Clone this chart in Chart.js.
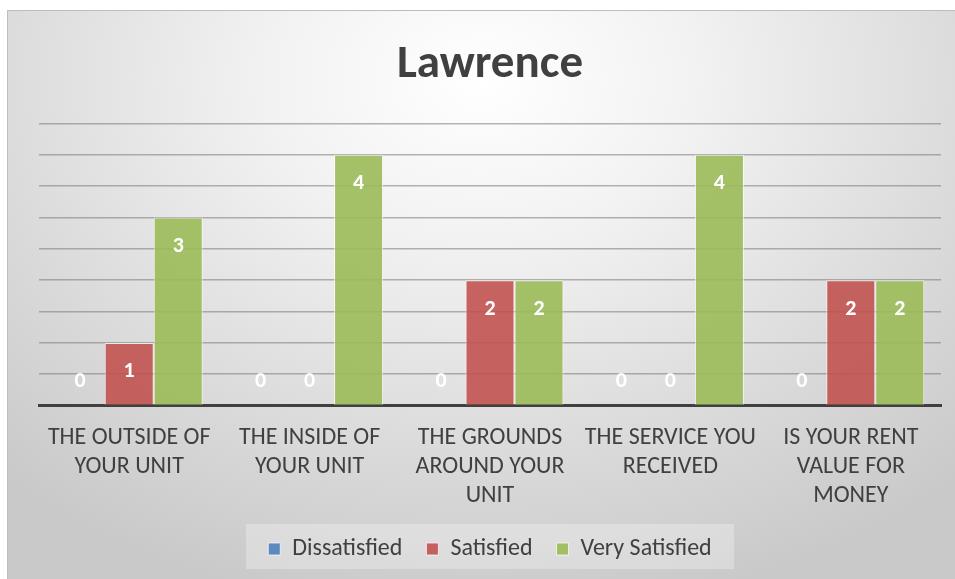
<!DOCTYPE html>
<html>
<head>
<meta charset="utf-8">
<script src="https://cdn.jsdelivr.net/npm/chart.js@4"></script>
<style>
  html, body { margin: 0; padding: 0; background: #fff; }
  #wrap {
    position: absolute; left: 7px; top: 10px; width: 948px; height: 569px;
    border-left: 1px solid #bdbdbd; border-top: 1px solid #bdbdbd; box-sizing: border-box;
    background: radial-gradient(ellipse 75% 95% at 50% 12%, #ffffff 0%, #f2f2f2 30%, #dadada 70%, #c9c9c9 100%);
  }
  canvas { display: block; }
</style>
</head>
<body>
<div id="wrap"><canvas id="chart" width="947" height="568"></canvas></div>
<script>
// Lawrence – satisfação por pergunta
const categorias = [
  ["THE OUTSIDE OF", "YOUR UNIT"],
  ["THE INSIDE OF", "YOUR UNIT"],
  ["THE GROUNDS", "AROUND YOUR", "UNIT"],
  ["THE SERVICE YOU", "RECEIVED"],
  ["IS YOUR RENT", "VALUE FOR", "MONEY"]
];
const series = ["Dissatisfied", "Satisfied", "Very Satisfied"];
const dissatisfied = [0, 0, 0, 0, 0];
const satisfied = [1, 0, 2, 0, 2];
const verySatisfied = [3, 4, 2, 4, 2];

const cores = ["rgba(79,129,189,0.9)", "rgba(192,80,77,0.88)", "rgba(155,187,89,0.9)"];
const fonte = "Carlito, 'Liberation Sans Narrow', 'Open Sans', sans-serif";

// rótulos brancos dentro das barras
const rotulos = {
  id: "rotulos",
  afterDatasetsDraw(chart) {
    const ctx = chart.ctx;
    const base = chart.scales.y.getPixelForValue(0);
    ctx.save();
    ctx.fillStyle = "#ffffff";
    ctx.font = "bold 22px " + fonte;
    ctx.textAlign = "center";
    ctx.textBaseline = "middle";
    chart.data.datasets.forEach((ds, i) => {
      chart.getDatasetMeta(i).data.forEach((bar, j) => {
        const y = Math.min(bar.y + 29, base - 24);
        ctx.fillText(String(ds.data[j]), bar.x, y);
      });
    });
    ctx.restore();
  }
};

// caixa de fundo da legenda
const fundoLegenda = {
  id: "fundoLegenda",
  beforeDraw(chart) {
    const lg = chart.legend;
    if (!lg) return;
    const ctx = chart.ctx;
    ctx.save();
    ctx.fillStyle = "rgba(255,255,255,0.28)";
    const cx = (lg.left + lg.right) / 2;
    const cy = (lg.top + lg.bottom) / 2;
    ctx.fillRect(cx - 244, cy - 18, 488, 45);
    ctx.restore();
  }
};

new Chart(document.getElementById("chart"), {
  type: "bar",
  data: {
    labels: categorias,
    datasets: [
      { label: series[0], data: dissatisfied, backgroundColor: cores[0] },
      { label: series[1], data: satisfied, backgroundColor: cores[1] },
      { label: series[2], data: verySatisfied, backgroundColor: cores[2] }
    ].map(d => Object.assign(d, { borderColor: "rgba(255,255,255,0.7)", borderWidth: 1, borderSkipped: "bottom" }))
  },
  options: {
    responsive: false,
    animation: false,
    layout: { padding: { left: 31, right: 14, top: 0, bottom: 8 } },
    datasets: { bar: { categoryPercentage: 0.815, barPercentage: 1 } },
    plugins: {
      title: {
        display: true,
        text: "Lawrence",
        color: "#404040",
        font: { family: fonte, size: 47, weight: "bold" },
        padding: { top: 26, bottom: 30 }
      },
      legend: {
        position: "bottom",
        labels: {
          color: "#404040",
          font: { family: fonte, size: 24 },
          boxWidth: 12,
          boxHeight: 12,
          padding: 24
        }
      },
      tooltip: { enabled: false }
    },
    scales: {
      x: {
        grid: { display: false, drawTicks: false },
        border: { display: true, color: "#404040", width: 3 },
        afterFit(scale) { scale.height -= 15; },
        ticks: {
          color: "#404040",
          font: { family: fonte, size: 24, lineHeight: 1.2 },
          padding: 18,
          maxRotation: 0,
          autoSkip: false
        }
      },
      y: {
        min: 0,
        max: 4.5,
        ticks: { display: false, stepSize: 0.5 },
        grid: { color: "rgba(120,120,120,0.55)", lineWidth: 1.5, drawTicks: false },
        border: { display: false }
      }
    }
  },
  plugins: [fundoLegenda, rotulos]
});
</script>
</body>
</html>
